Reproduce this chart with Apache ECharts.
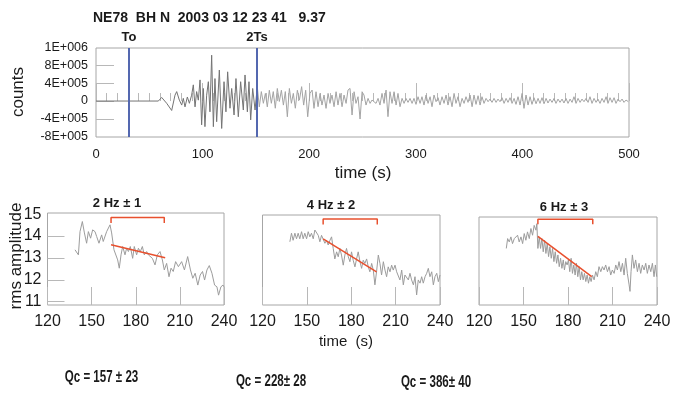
<!DOCTYPE html>
<html><head><meta charset="utf-8">
<script src="https://cdn.jsdelivr.net/npm/echarts@6/dist/echarts.min.js"></script>
<style>html,body{margin:0;padding:0;background:#fff}#c{width:675px;height:394px}</style>
</head><body><div id="c"></div>
<script>
// ---------- data ----------
const titleText = 'NE78  BH N  2003 03 12 23 41   9.37';
const topYTickValues = [-8, -4, 0, 4, 8, 11.8];          // units of 1E+005 counts
const topYTickLabels = ['-8E+005', '-4E+005', '0', '4E+005', '8E+005', '1E+006'];
const phaseTimes = [31, 151];
const phaseNames = ['To', '2Ts'];

// seismogram, [time s, counts / 1E+005]
const traceEarly = [[0,0],[58.5,0],[61.6,0.8],[66.3,-0.5],[71,-2.1],[74.1,1.3],[75.7,2.1],[78.2,0.2],[80.4,-0.9],[81.9,0.6],[83.5,-1.3],[85.7,0.9],[87.6,-0.5],[89.7,1.3],[91.3,3.6],[92.9,-1.3],[94.4,2.1],[96,0.2],[97.6,4.7],[99.1,-5.3],[100.7,2.8],[102.2,-5.7],[103.8,1.3],[105.4,4.3],[106.9,-2.4],[108.5,10.2],[110.1,-5.7],[111.6,5],[113.2,-4.6],[115.7,6.9],[117.9,-6.1],[120.1,4.3],[121.9,-2.4],[123.5,6.5],[125.7,-1.6],[127.3,2.8],[129.5,-3.1],[131.3,5],[133.5,-3.5],[135.7,4.3],[138.2,-2],[139.8,5.8],[142,-2.4],[143.5,4.3],[145.1,-4.2],[147,2.8],[149.2,-2],[151.3,3.2]];
const traceLate = [[151.3,3.2],[153.2,-1.3],[155.1,2.1],[157,-0.5],[158.9,1.7],[160.7,-1.3],[162.6,2.4],[164.5,-0.5],[166.3,2.1],[168.2,-1.6],[170.1,2.8],[172,-0.1],[173.9,2.4],[175.8,-0.9],[177.6,2.1],[179.5,-3.5],[181.4,2.8],[183.3,-0.5],[185.1,1.7],[187,-1.6],[188.9,2.4],[190.8,0.2],[192.9,3.2],[194.8,-0.9],[196.7,2.4],[198.6,-3.5],[200.7,1.7],
[202.7,2.44],[204.5,-1.63],[206.4,2.07],[208.3,-1.26],[210.2,1.7],[212,-0.89],[213.9,1.33],[215.8,-1.63],[217.7,1.7],[219.5,-0.52],[221.4,1.33],[223.3,-1.26],[225.2,2.07],[227,-0.89],[228.9,1.7],[230.8,-1.26],[232.7,1.33],[234.6,-0.52],[236.4,2.44],[238.3,2.81],[240.2,-3.11],[242.1,2.07],[243.9,-0.52],[245.8,0.96],[247.7,-4.0],[249.6,2.07],[251.4,1.33],[253.3,-0.89],[255.2,0.59],[257.1,-0.52],[258.9,0.22],[260.8,-0.15],[262.7,-0.52],[264.6,0.59],[266.4,-0.89],[268.3,1.7],[270.2,-0.52],[272.1,2.44],[273.9,-3.48],[275.8,2.07],[277.7,-0.52],[279.6,2.07],[281.5,-0.89],[283.3,1.7],[285.2,-1.26],[287.1,0.59],[289,-0.52],[290.8,0.59],[292.7,-0.3],[294.6,0.59],[296.5,-0.52],[298.3,0.59],[300.2,-0.74],[302.1,0.96],[304,-0.52],[305.8,0.96],[307.7,-0.89],[309.6,1.33],[311.5,-0.52],[313.4,0.96],[315.2,-1.26],[317.1,1.33],[319,-0.15],[320.9,0.74],[322.7,-0.89],[324.6,0.96],[326.5,-0.52],[328.4,1.33],[330.2,-0.89],[332.1,0.96],[334,-1.26],[335.9,1.7],[337.7,-0.52],[339.6,0.96],[341.5,-1.26],[343.4,0.59],[345.3,-0.52],[347.1,0.96],
[349,-0.3],[350.9,1.33],[352.8,-1.26],[354.6,1.33],[356.5,-0.74],[358.4,1.18],[360.3,-0.89],[362.1,0.96],[364,-0.52],[365.9,0.59],[367.8,-0.15],[369.6,0.44],[371.5,-0.3],[373.4,0.59],[375.3,-0.3],[377.1,0.44],[379,-0.15],[380.9,0.74],[382.8,-0.52],[384.7,0.59],[386.5,-0.3],[388.4,0.74],[390.3,-0.52],[392.2,0.59],[394,-0.74],[395.9,0.96],[397.8,-0.89],[399.7,1.7],[401.5,-1.63],[403.4,1.33],[405.3,-0.89],[407.2,0.96],[409,-0.74],[410.9,0.74],[412.8,-0.6],[414.7,0.59],[416.5,-0.52],[418.4,0.74],[420.3,-0.6],[422.2,0.59],[424,-0.44],[425.9,0.44],[427.8,-0.3],[429.7,0.59],[431.5,-0.52],[433.4,0.44],[435.3,-0.3],[437.2,0.44],[439,-0.44],[440.9,0.59],[442.8,-0.52],[444.7,0.44],[446.6,-0.3],[448.4,0.96],[450.3,-0.52],[452.2,0.59],[454.1,-0.3],[455.9,0.44],[457.8,-0.15],[459.7,0.59],[461.6,-0.3],[463.4,0.96],[465.3,-0.52],[467.2,0.59],[469.1,-0.3],[470.9,0.44],[472.8,-0.52],[474.7,0.59],[476.6,-0.3],[478.5,0.96],[480.3,-0.52],[482.2,0.74],[484.1,-0.3],[486,0.74],[487.8,-0.52],[489.7,0.44],[491.6,-0.15],[493.5,0.44],[495.3,-0.3],[497.2,0.22],[499.4,-0.15]];

const bandNames = ['2 Hz \u00b1 1', '4 Hz \u00b1 2', '6 Hz \u00b1 3'];
const qcLabels = ['Qc = 157 \u00b1 23', 'Qc = 228\u00b1 28', 'Qc = 386\u00b1 40'];
const rmsYTicks = [11, 12, 13, 14, 15];

// rms amplitude envelopes [time s, ln amplitude]
const rms2Hz = [[138.7,13.37],[141,13.14],[142.1,14.2],[143.7,14.66],[145.1,14.14],[146.6,13.67],[147.8,14.2],[149.3,13.9],[150.7,14.28],[152.3,14.2],[153.4,13.98],[155,13.67],[156.8,14.05],[157.9,13.75],[160.2,14.2],[162.5,14.51],[163.6,14.14],[165.2,13.37],[166.3,13.29],[167.7,12.91],[168.8,12.53],[170,13.14],[171.1,13.52],[172.7,13.14],[173.8,13.44],[175,13.29],[176.3,13.52],[177.9,12.98],[179,13.52],[180.6,13.14],[181.8,13.44],[183.1,13.29],[184.5,13.52],[185.8,13.14],[187.4,13.29],[188.6,13.14],[189.9,13.21],[191.3,12.98],[193.1,12.68],[194.7,13.14],[196.5,13.29],[198.1,12.91],[199.4,12.45],[201,12.75],[202.6,12.14],[204,12.53],[205.5,12.38],[207.1,12.83],[209,12.6],[211.2,12.83],[213.1,12.45],[215.3,13.06],[217.2,12.45],[218.8,12.07],[220.4,12.3],[222.2,11.76],[223.8,12.22],[225.4,12.38],[226.8,11.99],[228.4,12.45],[230,12.65],[231.8,12.3],[233.6,11.76],[235.2,11.68],[236.3,11.3],[237.9,11.68],[239.3,11.76],[240,11.68]];
const rms4Hz = [[138.5,13.8],[139.6,14.2],[140.7,13.87],[141.9,14.2],[143,13.94],[144.1,14.2],[145.2,13.94],[146.4,14.27],[147.5,13.94],[148.6,14.2],[149.8,13.94],[150.9,14.27],[152,14.03],[153.1,14.2],[154.3,13.94],[155.4,14.35],[156.5,14.42],[157.7,14.1],[158.8,13.8],[159.9,14.1],[161,14.03],[162.2,13.73],[163.3,13.87],[164.4,13.65],[165.6,13.87],[166.7,14.03],[167.8,13.49],[168.9,13],[170.1,13.33],[171.2,13.1],[172.3,13.49],[173.4,13.18],[174.6,12.71],[175.7,13.18],[176.8,13.49],[178,13.1],[179.1,12.87],[180.2,13.33],[181.3,12.94],[182.5,12.63],[183.6,13],[184.7,13.33],[185.9,12.87],[187,12.56],[188.1,12.94],[189.2,12.79],[190.4,13],[191.5,12.63],[192.6,12.4],[193.8,12.79],[194.9,12.48],[196,11.79],[197.1,12.4],[198.3,13.18],[199.4,12.79],[200.5,12.25],[201.7,12.87],[202.8,12.48],[203.9,12.17],[205,12.63],[206.2,12.4],[207.3,12.71],[208.4,12.48],[209.6,12.71],[210.7,12.4],[211.8,12.48],[212.9,12.02],[214.1,12.48],[215.2,11.79],[216.3,12.25],[217.5,12.17],[218.6,12.02],[219.7,12.33],[220.8,12.02],[222,11.79],[223.1,12.17],[224.2,11.32],[225.3,12.02],[226.5,11.87],[227.6,12.17],[228.7,11.87],[229.9,12.17],[231,12.33],[232.1,12.56],[233.2,12.17],[234.4,12.4],[235.5,11.79],[236.6,12.17],[237.8,12.33],[238.9,11.94],[240,12.25]];
const rms6Hz = [[138.4,13.55],[139.3,14.02],[140.4,13.86],[141.5,14.1],[142.6,13.78],[143.8,14.02],[144.9,13.94],[146,14.18],[147.1,13.86],[148.3,14.1],[149.4,13.78],[150.5,14.26],[151.6,13.94],[152.7,14.34],[153.9,14.02],[155,14.5],[156.1,14.18],[157.2,14.65],[158.4,14.42],[159,14.73],[159.7,13.55],[160.6,14.1],[161.5,13.55],[162.4,14.02],[163.3,13.39],[164.2,13.94],[165.1,13.31],[166,13.78],[166.9,13.16],[167.8,13.63],[168.7,13.08],[169.6,13.55],[170.5,12.92],[171.4,13.39],[172.3,12.84],[173.2,13.24],[174.1,12.68],[175,13.08],[175.9,12.6],[176.8,13],[177.6,12.52],[178.5,12.92],[179.4,12.76],[180.3,13],[181.2,12.44],[182.1,13.08],[183,12.36],[183.9,12.76],[184.8,12.28],[185.7,12.84],[186.6,12.2],[187.5,12.68],[188.4,12.05],[189.3,12.44],[190.2,12.05],[191.1,12.36],[192,11.97],[192.9,12.28],[193.8,11.89],[194.7,12.2],[195.6,11.97],[196.5,12.28],[197.6,12.05],[198.7,12.44],[199.8,12.2],[200.9,12.68],[202.1,12.44],[203.2,12.68],[204.3,12.52],[205.4,12.76],[206.6,12.44],[207.7,12.68],[208.8,12.28],[209.9,12.52],[211.1,12.36],[212.2,12.76],[213.3,12.52],[214.4,12.92],[215.6,12.44],[216.7,12.84],[217.8,12.28],[218.9,13.08],[220,12.36],[221.2,11.81],[221.8,11.5],[222.5,12.44],[223.4,13.24],[224.5,12.6],[225.6,13],[226.8,12.44],[227.9,12.84],[229,12.36],[230.1,12.76],[231.3,12.52],[232.4,12.84],[233.5,12.36],[234.6,12.76],[235.8,12.44],[236.9,12.84],[238,12.2],[238.9,12.76],[239.8,12.2]];
const fit2Hz = [[163.2,13.6],[200,13.01]];
const fit4Hz = [[161,13.94],[197.1,12.4]];
const fit6Hz = [[159.7,14.13],[196,12.2]];
const window2Hz = [[163.2,14.59],[163.2,14.85],[199.4,14.85],[199.4,14.59]];
const window4Hz = [[161,14.61],[161,14.86],[197.6,14.86],[197.6,14.61]];
const window6Hz = [[159.7,14.7],[159.7,14.94],[196.7,14.94],[196.7,14.7]];

// ---------- chart ----------
const FONT = '"Liberation Sans", Arial, sans-serif';
const gridCol = '#a6a6a6', tickCol = '#b8b8b8', txt = '#1a1a1a';
const red = '#e8502e', traceGray = '#9c9c9c';

const chart = echarts.init(document.getElementById('c'), null, {renderer: 'canvas'});

const grids = [
  {left: 96, top: 48, width: 533, height: 89},
  {left: 47.5, top: 213, width: 176.5, height: 92},
  {left: 262.5, top: 215, width: 177.5, height: 90},
  {left: 479, top: 217, width: 178, height: 88}
].map(g => Object.assign({show: true, borderColor: gridCol, borderWidth: 1, backgroundColor: 'transparent'}, g));

const xAxes = [
  {gridIndex: 0, type: 'value', min: 0, max: 500, interval: 100,
   axisLine: {show: false}, splitLine: {show: false},
   axisTick: {show: true, inside: true, length: 18, lineStyle: {color: tickCol}},
   minorTick: {show: true, splitNumber: 10, length: 8, lineStyle: {color: tickCol}},
   axisLabel: {fontSize: 13, color: txt, margin: 11, fontFamily: FONT}}
];
for (let i = 1; i <= 3; i++) {
  xAxes.push({gridIndex: i, type: 'value', min: 120, max: 240, interval: 30,
    axisLine: {show: false}, splitLine: {show: false},
    axisTick: {show: true, inside: true, length: 18, lineStyle: {color: tickCol}},
    axisLabel: {fontSize: 16, color: txt, margin: 9, fontFamily: FONT}});
}
const yAxes = [
  {gridIndex: 0, type: 'value', min: -8, max: 11.8,
   axisLine: {show: false}, splitLine: {show: false},
   axisTick: {show: true, inside: true, length: 18, customValues: [-4, 0, 4, 8], lineStyle: {color: tickCol}},
   axisLabel: {customValues: topYTickValues, fontSize: 12.5, color: txt, margin: 8, fontFamily: FONT,
     formatter: v => { const k = topYTickValues.findIndex(t => Math.abs(t - v) < 1e-6); return k >= 0 ? topYTickLabels[k] : ''; }}},
  {gridIndex: 1, type: 'value', min: 10.85, max: 15.05,
   axisLine: {show: false}, splitLine: {show: false},
   axisTick: {show: true, inside: true, length: 17, customValues: [11, 12, 13, 14], lineStyle: {color: tickCol}},
   axisLabel: {customValues: rmsYTicks, fontSize: 16, color: txt, margin: 6, fontFamily: FONT}},
  {gridIndex: 2, type: 'value', min: 10.85, max: 15.05, axisLine: {show: false}, splitLine: {show: false}, axisTick: {show: false}, axisLabel: {show: false}},
  {gridIndex: 3, type: 'value', min: 10.85, max: 15.05, axisLine: {show: false}, splitLine: {show: false}, axisTick: {show: false}, axisLabel: {show: false}}
];

function line(data, gi, color, width, z) {
  return {type: 'line', xAxisIndex: gi, yAxisIndex: gi, data: data, showSymbol: false, symbol: 'none',
    silent: true, animation: false, z: z || 2, lineStyle: {color: color, width: width}};
}

const series = [
  Object.assign(line(traceEarly, 0, '#747474', 1), {
    markLine: {symbol: 'none', silent: true, animation: false,
      lineStyle: {color: '#5468b0', width: 2, type: 'solid'},
      label: {show: true, position: 'end', distance: 4, formatter: p => phaseNames[p.dataIndex],
        fontWeight: 'bold', fontSize: 13, color: txt, fontFamily: FONT},
      data: phaseTimes.map(t => ({xAxis: t}))}
  }),
  line(traceLate, 0, '#a4a4a4', 1),
  line(rms2Hz, 1, traceGray, 1), line(fit2Hz, 1, red, 1.5, 3), line(window2Hz, 1, red, 1.5, 3),
  line(rms4Hz, 2, traceGray, 1), line(fit4Hz, 2, red, 1.5, 3), line(window4Hz, 2, red, 1.5, 3),
  line(rms6Hz, 3, traceGray, 1), line(fit6Hz, 3, red, 1.5, 3), line(window6Hz, 3, red, 1.5, 3)
];

function text(t, x, y, font, opts) {
  opts = opts || {};
  const align = opts.align || 'center';
  return {type: 'text', x: x, y: y, rotation: opts.rot || 0, scaleX: opts.sx || 1, scaleY: 1, silent: true,
    style: {text: t, font: font, fill: txt, align: align, verticalAlign: 'middle',
      textAlign: align, textVerticalAlign: 'middle'}};
}
const graphics = [
  text(titleText, 93, 18, 'bold 14px ' + FONT, {align: 'left'}),
  text('counts', 18, 92, '17px ' + FONT, {rot: Math.PI / 2}),
  text('time (s)', 363, 173, '17px ' + FONT),
  text(bandNames[0], 117, 203, 'bold 13px ' + FONT),
  text(bandNames[1], 331, 205, 'bold 13px ' + FONT),
  text(bandNames[2], 564, 207, 'bold 13px ' + FONT),
  text('rms amplitude', 16, 256, '17px ' + FONT, {rot: Math.PI / 2}),
  text('time  (s)', 346, 342, '15px ' + FONT),
  text(qcLabels[0], 101.5, 377, 'bold 16.5px ' + FONT, {sx: 0.7}),
  text(qcLabels[1], 271, 381, 'bold 16.5px ' + FONT, {sx: 0.7}),
  text(qcLabels[2], 436, 382, 'bold 16.5px ' + FONT, {sx: 0.7})
];

chart.setOption({
  animation: false,
  backgroundColor: '#ffffff',
  grid: grids, xAxis: xAxes, yAxis: yAxes, series: series, graphic: graphics
});
</script>
</body></html>
